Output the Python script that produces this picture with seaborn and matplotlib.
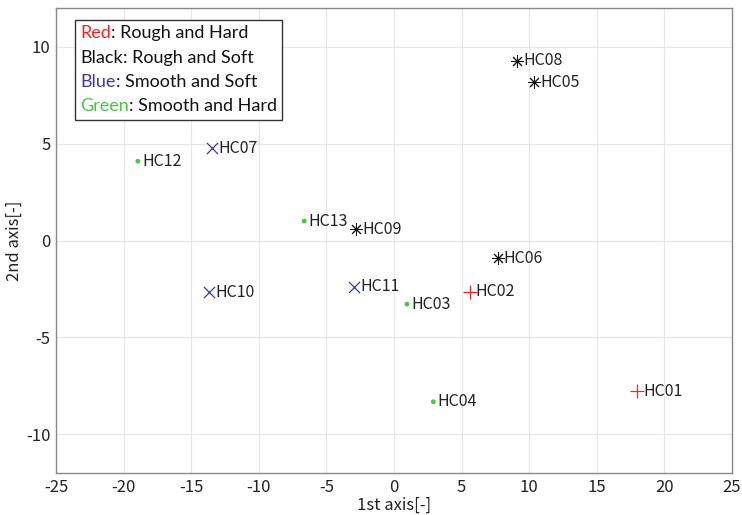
import matplotlib
matplotlib.use("Agg")
import matplotlib.pyplot as plt
import seaborn as sns
import pandas as pd
from matplotlib.offsetbox import TextArea, HPacker, VPacker, AnchoredOffsetbox

# ---- data ----
names = ["HC01", "HC02", "HC03", "HC04", "HC05", "HC06", "HC07",
         "HC08", "HC09", "HC10", "HC11", "HC12", "HC13"]
axis1 = [17.97, 5.59, 0.96, 2.91, 10.34, 7.66, -13.46,
         9.12, -2.81, -13.71, -2.94, -18.95, -6.64]
axis2 = [-7.77, -2.64, -3.28, -8.32, 8.19, -0.92, 4.76,
         9.28, 0.58, -2.67, -2.38, 4.10, 1.01]
groups = ["Red", "Red", "Green", "Green", "Black", "Black", "Blue",
          "Black", "Black", "Blue", "Blue", "Green", "Green"]
group_names = ["Red", "Black", "Blue", "Green"]
group_desc = [": Rough and Hard", ": Rough and Soft", ": Smooth and Soft", ": Smooth and Hard"]

colors = {"Red": "#ff2020", "Black": "#111111", "Blue": "#3a3aaa", "Green": "#44c844"}
markers = {"Red": "+", "Black": (8, 2, 0), "Blue": "x", "Green": "o"}
msizes = {"Red": 90, "Black": 75, "Blue": 65, "Green": 12}
mlw = {"Red": 0.9, "Black": 0.7, "Blue": 0.9, "Green": 0}

df = pd.DataFrame({"x": axis1, "y": axis2, "name": names, "group": groups})

sns.set_theme(style="whitegrid")
plt.rcParams["font.family"] = ["Noto Sans CJK JP", "DejaVu Sans"]
plt.rcParams["axes.unicode_minus"] = False

fig = plt.figure(figsize=(7.42, 5.15), dpi=100)
ax = fig.add_axes([0.0755, 0.0816, 0.911, 0.9024])

for g in group_names:
    sub = df[df["group"] == g]
    if g == "Green":
        sns.scatterplot(data=sub, x="x", y="y", ax=ax, color=colors[g],
                        marker="o", s=msizes[g], edgecolor="none", legend=False, zorder=3)
    else:
        sns.scatterplot(data=sub, x="x", y="y", ax=ax, color=colors[g],
                        marker=markers[g], s=msizes[g], linewidth=mlw[g], legend=False, zorder=3)

for xi, yi, n, g in zip(df["x"], df["y"], df["name"], df["group"]):
    off = 3 if g == "Green" else 4.5
    ax.annotate(n, (xi, yi), xytext=(off, 0), textcoords="offset points",
                va="center", ha="left", fontsize=11.5, color="#222222", zorder=4)

ax.set_xlim(-25, 25)
ax.set_ylim(-12, 12)
ax.set_xticks(range(-25, 26, 5))
ax.set_yticks([-10, -5, 0, 5, 10])
ax.set_xlabel("1st axis[-]", fontsize=12, color="#222222", labelpad=1)
ax.set_ylabel("2nd axis[-]", fontsize=12, color="#222222", labelpad=2)
ax.tick_params(axis="both", direction="in", length=4, width=0.8, color="#888888",
               labelsize=12, labelcolor="#222222", pad=4)
ax.grid(True, color="#e6e6e6", linewidth=0.8)
for sp in ax.spines.values():
    sp.set_color("#888888")
    sp.set_linewidth(1.0)
ax.set_facecolor("white")

# ---- multicolour legend box ----
rows = []
for g, d in zip(group_names, group_desc):
    c = colors[g] if g != "Black" else "#111111"
    t1 = TextArea(g, textprops=dict(color=c, fontsize=13, family="Lato"))
    t2 = TextArea(d, textprops=dict(color="#111111", fontsize=13, family="Lato"))
    rows.append(HPacker(children=[t1, t2], align="baseline", pad=0, sep=0))
box = VPacker(children=rows, align="left", pad=0, sep=6)
anch = AnchoredOffsetbox(loc="upper left", child=box, pad=0.35, borderpad=0,
                         frameon=True)
anch.patch.set_edgecolor("#333333")
anch.patch.set_linewidth(1.0)
anch.patch.set_boxstyle("square,pad=0")
anch.zorder = 5
ax.add_artist(anch)
anch.set_bbox_to_anchor((75 / 742, 1 - 20 / 515), transform=fig.transFigure)

fig.savefig("out.png", dpi=100)
